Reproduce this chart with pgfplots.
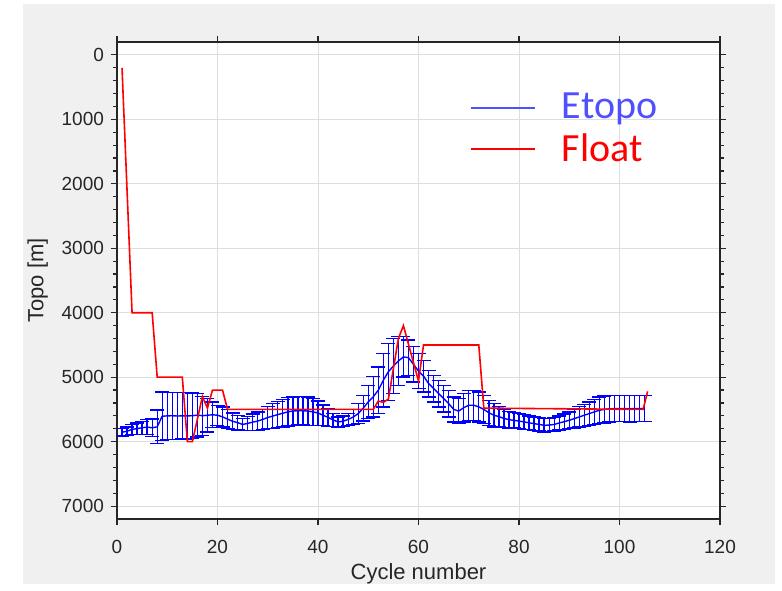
\documentclass[border=0pt]{standalone}
\usepackage{pgfplots}
\pgfplotsset{compat=1.18}
\usepackage{pgfplotstable}
\usepackage{fontspec}
\setmainfont{Liberation Sans}
\newfontfamily\carlito{Carlito}
\definecolor{figgray}{RGB}{240,240,240}
\definecolor{axgray}{RGB}{38,38,38}
\definecolor{gridgray}{RGB}{222,222,222}
\definecolor{legblue}{RGB}{80,80,255}

% Etopo: cycle, mean depth, half spread
\pgfplotstableread{
c m e
1 5854 57
2 5838 67
3 5810 75
4 5797 88
5 5784 101
6 5774 117
7 5785 135
8 5770 260
9 5605 375
10 5600 362
11 5598 365
12 5602 362
13 5600 360
14 5600 358
15 5598 352
16 5588 338
17 5598 302
18 5590 259
19 5583 200
20 5590 155
21 5616 155
22 5650 148
23 5684 130
24 5705 115
25 5733 90
26 5717 107
27 5697 127
28 5681 143
29 5655 155
30 5625 175
31 5603 194
32 5580 205
33 5559 212
34 5538 218
35 5525 220
36 5520 220
37 5520 220
38 5525 220
39 5538 208
40 5556 189
41 5590 160
42 5623 137
43 5663 103
44 5694 78
45 5683 83
46 5655 90
47 5618 118
48 5565 156
49 5480 200
50 5383 259
51 5303 313
52 5202 362
53 5047 414
54 4917 440
55 4827 427
56 4749 375
57 4685 311
58 4697 272
59 4801 272
60 4905 272
61 4982 246
62 5098 207
63 5176 207
64 5254 207
65 5331 207
66 5409 207
67 5499 194
68 5526 195
69 5473 220
70 5435 233
71 5435 233
72 5461 233
73 5500 220
74 5551 194
75 5590 181
76 5611 160
77 5640 140
78 5658 128
79 5670 120
80 5681 117
81 5693 113
82 5708 108
83 5720 104
84 5733 103
85 5746 104
86 5743 103
87 5733 103
88 5710 110
89 5690 120
90 5668 130
91 5643 143
92 5616 156
93 5590 170
94 5564 181
95 5538 193
96 5513 208
97 5500 210
98 5490 205
99 5488 203
100 5486 203
101 5488 202
102 5490 203
103 5487 204
104 5488 203
105 5486 200
}\etopo

% Float depth along the cycles
\pgfplotstableread{
c d
1 200
3 4000
7 4000
8 5000
13 5000
14 6000
15 6000
17 5300
18 5480
19 5200
21 5200
22 5500
51 5500
52 5370
53 5390
54 5340
56 4400
57 4200
60 5060
61 4500
72 4500
73 5480
104.7 5500
105.6 5220
}\floatd

\begin{document}
\begin{tikzpicture}
\fill[white] (-58.5pt,-32.5pt) rectangle (332.5pt,259.5pt);
\fill[figgray] (-47pt,-32.5pt) rectangle (329pt,257.5pt);
\begin{axis}[
    at={(0,0)}, anchor=south west,
    scale only axis,
    width=301.5pt, height=238.5pt,
    xmin=0, xmax=120,
    ymin=-200, ymax=7200,
    y dir=reverse,
    xtick={0,20,...,120},
    ytick={0,1000,...,7000},
    minor y tick num=4,
    tick align=outside,
    major tick length=3pt,
    minor tick length=2pt,
    tick style={axgray, line width=0.6pt},
    axis background/.style={fill=white},
    axis line style={axgray, line width=0.8pt},
    grid=major,
    major grid style={gridgray, line width=0.5pt},
    tick label style={font=\fontsize{9.5}{11}\selectfont, text=axgray},
    xticklabel style={yshift=-4pt},
    /pgf/number format/assume math mode=true,
    /pgf/number format/1000 sep={},
    label style={font=\fontsize{11}{13}\selectfont, text=axgray},
    xlabel={Cycle number},
    xlabel style={yshift=2pt},
    ylabel={Topo [m]},
    legend style={at={(0.575,0.91)}, anchor=north west, draw=none, fill=none,
        font=\carlito\fontsize{20}{24}\selectfont, row sep=2pt,
        nodes={inner xsep=8pt}},
    legend cell align=left,
    legend image code/.code={\draw[#1] (0pt,0pt) -- (32pt,0pt);},
]
\addplot[blue, line width=0.7pt, forget plot,
    error bars/.cd, y dir=both, y explicit,
    error bar style={line width=0.65pt},
    error mark options={blue, rotate=90, line width=0.65pt, mark size=3.5pt}]
    table[x=c, y=m, y error=e] {\etopo};
\addplot[red, line width=0.8pt, forget plot] table[x=c, y=d] {\floatd};

\addlegendimage{legblue, line width=0.9pt}
\addlegendentry{\hspace{5pt}\textcolor{legblue}{Etopo}}
\addlegendimage{red, line width=0.9pt}
\addlegendentry{\hspace{5pt}\textcolor{red}{Float}}
\end{axis}
\end{tikzpicture}
\end{document}
